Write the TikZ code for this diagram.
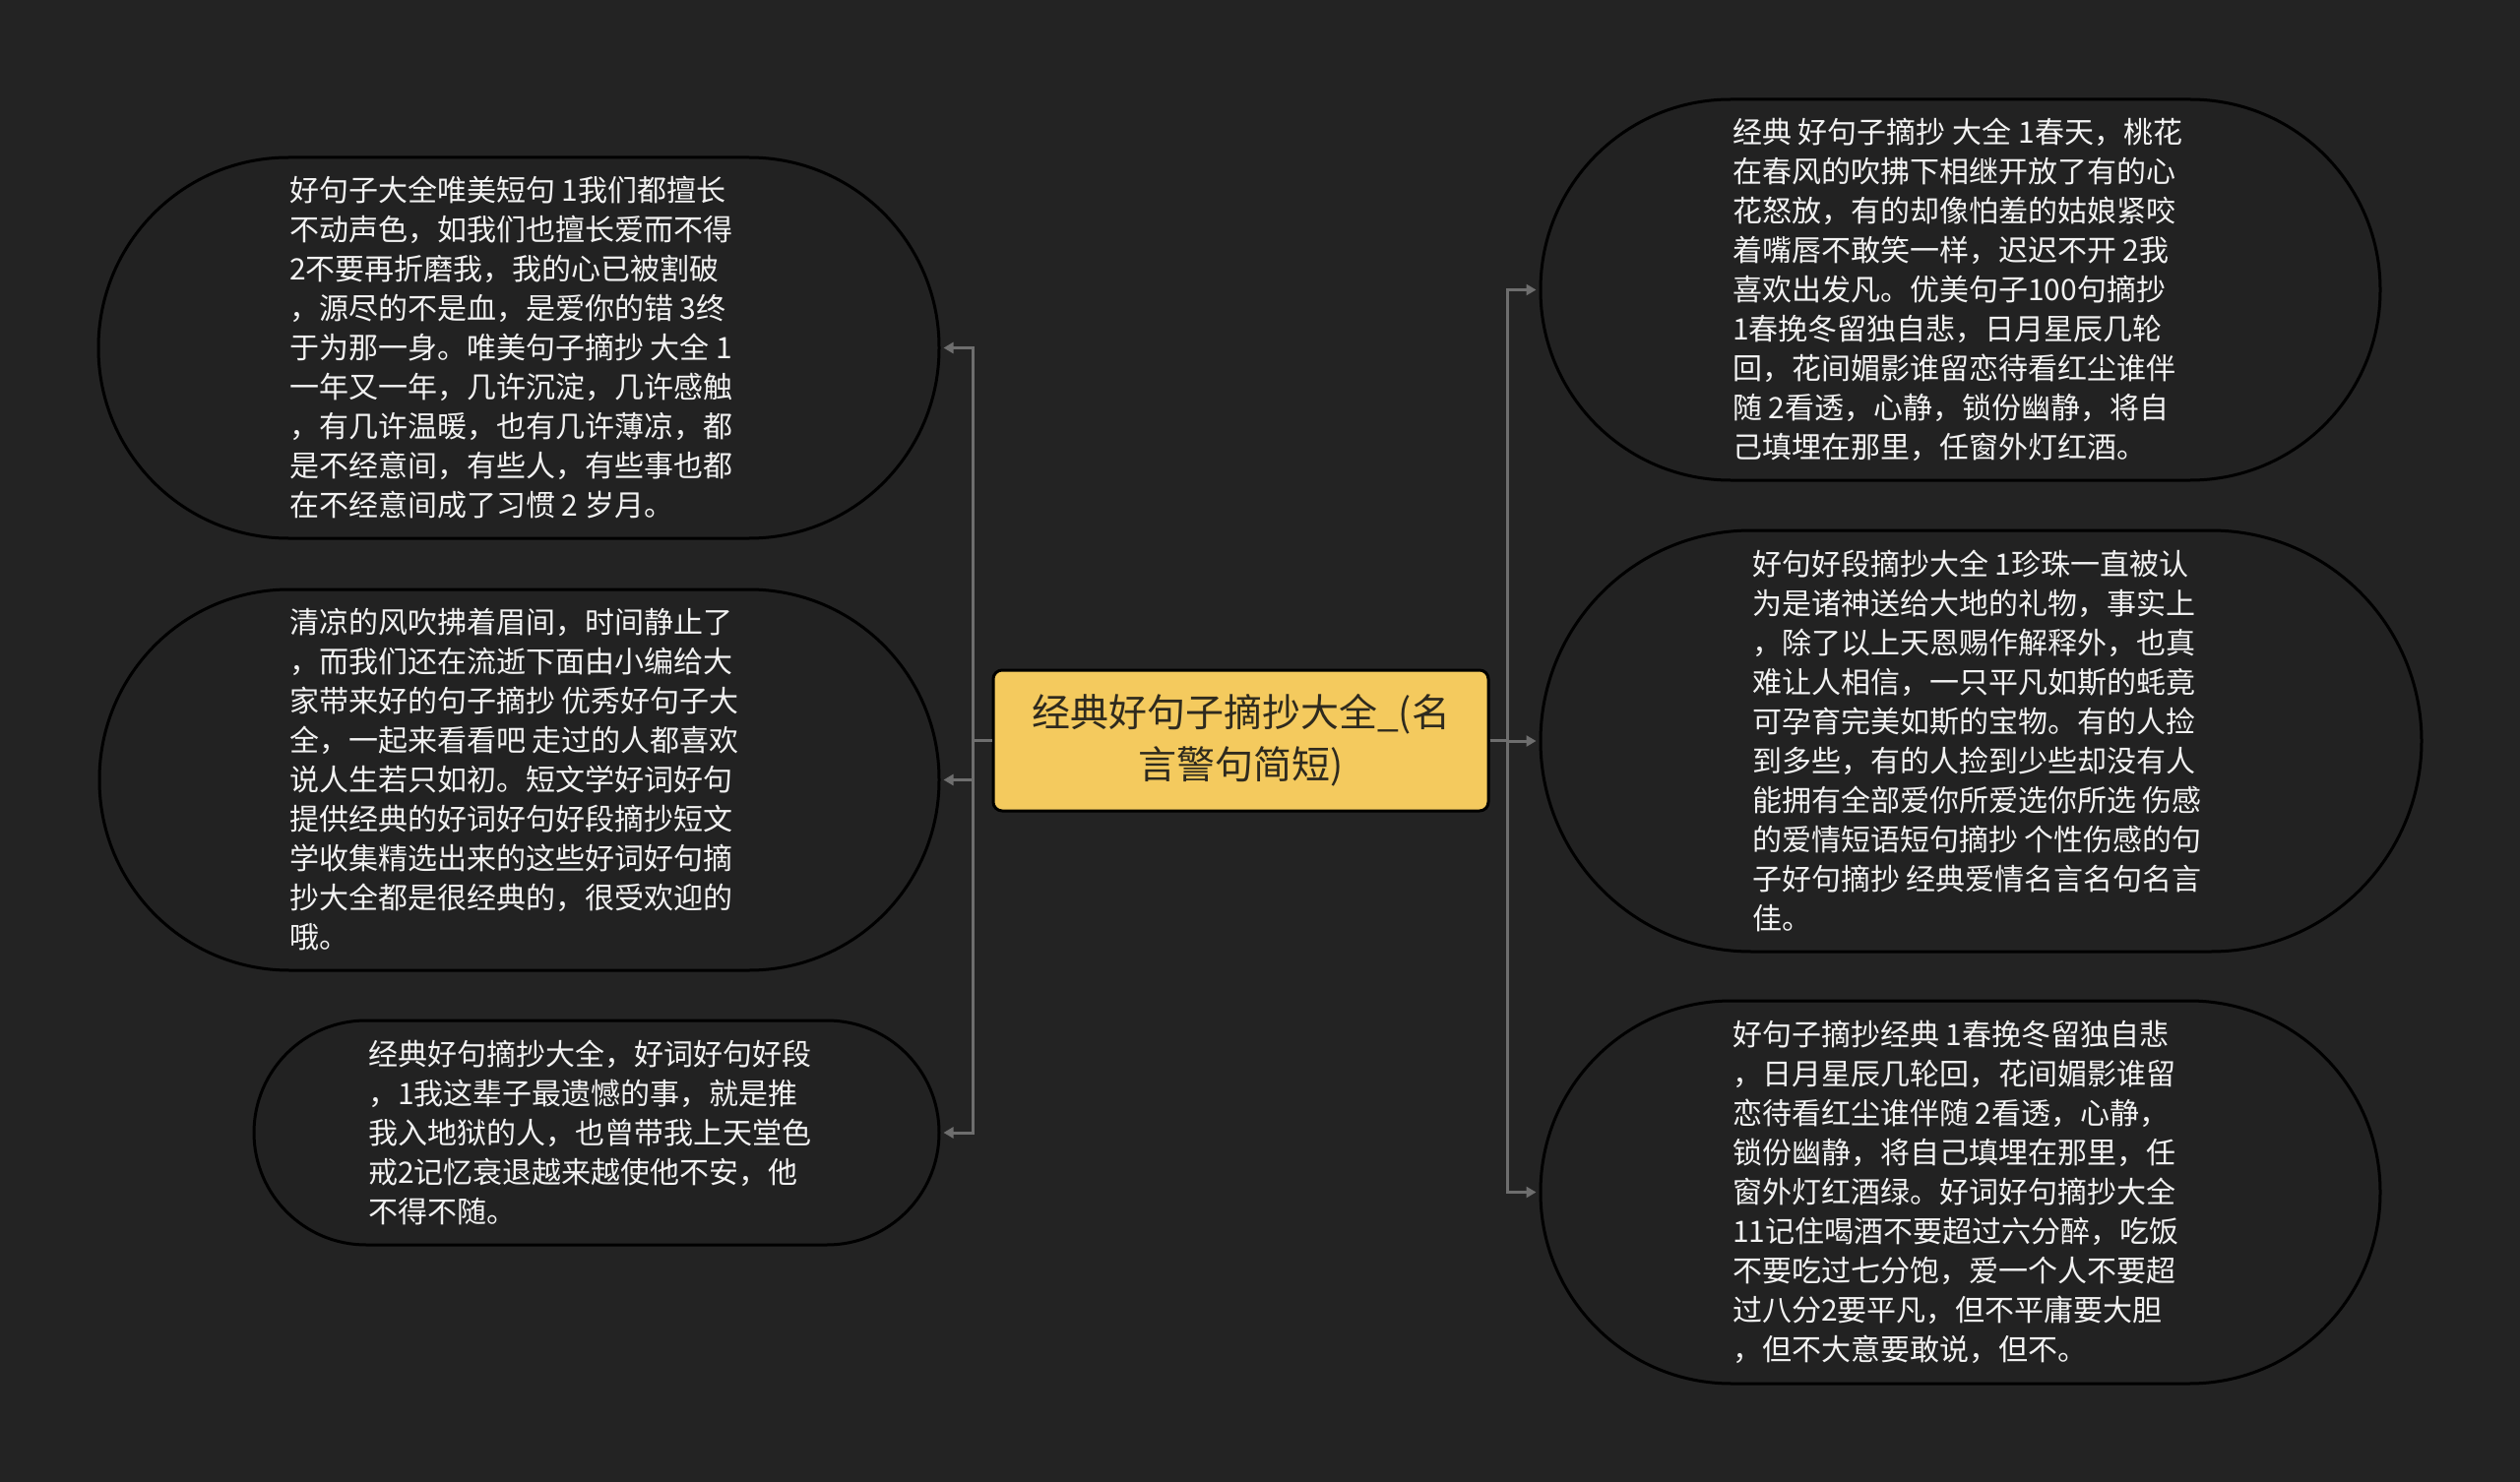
\documentclass[tikz,border=0pt]{standalone}
\usepackage{fontspec}
\setmainfont{Noto Sans CJK SC}
\usetikzlibrary{arrows.meta}
\definecolor{bgc}{HTML}{232323}
\definecolor{nodefill}{HTML}{222222}
\definecolor{connc}{HTML}{6E6E6E}
\definecolor{mainfill}{HTML}{F4CA5E}
\definecolor{maintext}{HTML}{2E2A1E}
\definecolor{leaftext}{HTML}{F2F2F2}
\tikzset{
  leafbox/.style={draw=black, line width=3pt, fill=nodefill, rectangle, inner sep=0pt},
  leaftxt/.style={anchor=west, align=left, text=leaftext, inner sep=0pt,
    font=\fontsize{30}{40}\selectfont},
  mainbox/.style={draw=black, line width=3pt, fill=mainfill, rectangle, rounded corners=9pt,
    align=center, text=maintext, font=\fontsize{39}{53}\selectfont,
    minimum width=503pt, minimum height=143pt, inner sep=0pt},
  conn/.style={draw=connc, line width=3pt, -{Triangle[length=10pt,width=11pt]}, shorten >=3pt}
}
\begin{document}
\begin{tikzpicture}[x=1pt,y=-1pt]
\fill[bgc] (0,0) rectangle (2560,1506);
\useasboundingbox (0,0) rectangle (2560,1506);

% leaf shapes
\node[leafbox, minimum width=854pt, minimum height=387pt, rounded corners=193pt] (l1) at (527,353.5) {};
\node[leafbox, minimum width=853pt, minimum height=387pt, rounded corners=193pt] (l2) at (527.5,792.5) {};
\node[leafbox, minimum width=696pt, minimum height=228pt, rounded corners=114pt] (l3) at (606,1151) {};
\node[leafbox, minimum width=853pt, minimum height=387pt, rounded corners=193pt] (r1) at (1991.5,294.5) {};
\node[leafbox, minimum width=895pt, minimum height=428pt, rounded corners=214pt] (r2) at (2012.5,753) {};
\node[leafbox, minimum width=853pt, minimum height=389pt, rounded corners=194pt] (r3) at (1991.5,1211.5) {};

% leaf texts
\node[leaftxt] (l1t) at (294,353) {好句子大全唯美短句 1我们都擅长\\不动声色，如我们也擅长爱而不得\\2不要再折磨我，我的心已被割破\\，源尽的不是血，是爱你的错 3终\\于为那一身。唯美句子摘抄 大全 1\\一年又一年，几许沉淀，几许感触\\，有几许温暖，也有几许薄凉，都\\是不经意间，有些人，有些事也都\\在不经意间成了习惯 2 岁月。};
\node[leaftxt] (l2t) at (294,792) {清凉的风吹拂着眉间，时间静止了\\，而我们还在流逝下面由小编给大\\家带来好的句子摘抄 优秀好句子大\\全，一起来看看吧 走过的人都喜欢\\说人生若只如初。短文学好词好句\\提供经典的好词好句好段摘抄短文\\学收集精选出来的这些好词好句摘\\抄大全都是很经典的，很受欢迎的\\哦。};
\node[leaftxt] (l3t) at (374,1151) {经典好句摘抄大全，好词好句好段\\，1我这辈子最遗憾的事，就是推\\我入地狱的人，也曾带我上天堂色\\戒2记忆衰退越来越使他不安，他\\不得不随。};
\node[leaftxt] (r1t) at (1760,294) {经典 好句子摘抄 大全 1春天，桃花\\在春风的吹拂下相继开放了有的心\\花怒放，有的却像怕羞的姑娘紧咬\\着嘴唇不敢笑一样，迟迟不开 2我\\喜欢出发凡。优美句子100句摘抄\\1春挽冬留独自悲，日月星辰几轮\\回，花间媚影谁留恋待看红尘谁伴\\随 2看透，心静，锁份幽静，将自\\己填埋在那里，任窗外灯红酒。};
\node[leaftxt] (r2t) at (1780,753) {好句好段摘抄大全 1珍珠一直被认\\为是诸神送给大地的礼物，事实上\\，除了以上天恩赐作解释外，也真\\难让人相信，一只平凡如斯的蚝竟\\可孕育完美如斯的宝物。有的人捡\\到多些，有的人捡到少些却没有人\\能拥有全部爱你所爱选你所选 伤感\\的爱情短语短句摘抄 个性伤感的句\\子好句摘抄 经典爱情名言名句名言\\佳。};
\node[leaftxt] (r3t) at (1760,1211.5) {好句子摘抄经典 1春挽冬留独自悲\\，日月星辰几轮回，花间媚影谁留\\恋待看红尘谁伴随 2看透，心静，\\锁份幽静，将自己填埋在那里，任\\窗外灯红酒绿。好词好句摘抄大全\\11记住喝酒不要超过六分醉，吃饭\\不要吃过七分饱，爱一个人不要超\\过八分2要平凡，但不平庸要大胆\\，但不大意要敢说，但不。};

% center
\node[mainbox] (c) at (1260.5,752.5) {经典好句子摘抄大全\_(名\\言警句简短)};

% junctions
\coordinate (lj) at (988,752.5);
\coordinate (rj) at (1531,752.5);

% connectors
\draw[conn] (c.west) -- (lj) |- (l1.east);
\draw[conn] (c.west) -- (lj) |- (l2.east);
\draw[conn] (c.west) -- (lj) |- (l3.east);
\draw[conn] (c.east) -- (rj) |- (r1.west);
\draw[conn] (c.east) -- (rj) |- (r2.west);
\draw[conn] (c.east) -- (rj) |- (r3.west);
\end{tikzpicture}
\end{document}
